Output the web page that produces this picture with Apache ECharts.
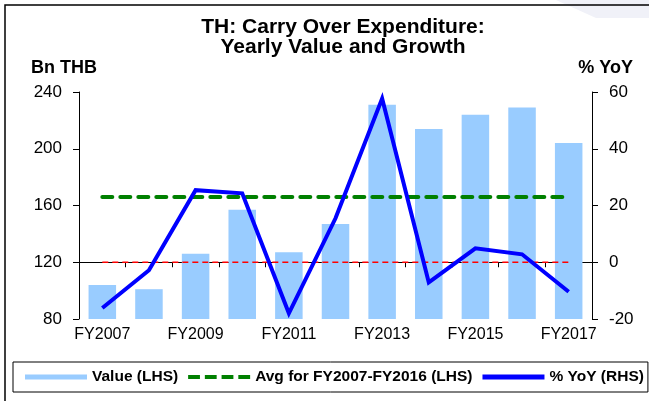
<!DOCTYPE html>
<html>
<head>
<meta charset="utf-8">
<script src="https://cdn.jsdelivr.net/npm/echarts@6/dist/echarts.min.js"></script>
<style>html,body{margin:0;padding:0;background:#fff;}#c{width:649px;height:401px;}</style>
</head>
<body>
<div id="c"></div>
<script>
const categories = ['FY2007','FY2008','FY2009','FY2010','FY2011','FY2012','FY2013','FY2014','FY2015','FY2016','FY2017'];
const valueLHS = [104, 101, 126, 157, 127, 147, 231, 214, 224, 229, 204];
const yoyRHS = [-16.1, -2.8, 25.4, 24.3, -18.0, 15.5, 57.7, -7.1, 4.9, 2.8, -10.4];
const avgLHS = [166, 166, 166, 166, 166, 166, 166, 166, 166, 166, 166];
const zeroRHS = [0, 0, 0, 0, 0, 0, 0, 0, 0, 0, 0];
const leftTicks = {min: 80, max: 240, interval: 40};
const rightTicks = {min: -20, max: 60, interval: 20};

const FONT = 'Liberation Sans, Arial, sans-serif';
const chart = echarts.init(document.getElementById('c'), null, {renderer: 'canvas'});
chart.setOption({
  animation: false,
  backgroundColor: '#fff',
  graphic: [
    {type: 'polygon', silent: true, z: -1, shape: {points: [[556,0],[649,0],[649,18],[596,18]]}, style: {fill: '#f0f1f8'}},
    {type: 'rect', silent: true, shape: {x: 5, y: 5, width: 800, height: 600}, style: {fill: 'none', stroke: '#000', lineWidth: 1.5}},
    {type: 'text', silent: true, style: {text: 'TH: Carry Over Expenditure:\nYearly Value and Growth', x: 343, y: 17, align: 'center', verticalAlign: 'top', fontSize: 21, fontWeight: 'bold', fontFamily: FONT, lineHeight: 20, fill: '#000'}},
    {type: 'text', silent: true, style: {text: 'Bn THB', x: 31, y: 68, align: 'left', verticalAlign: 'middle', fontSize: 18, fontWeight: 'bold', fontFamily: FONT, fill: '#000'}},
    {type: 'text', silent: true, style: {text: '% YoY', x: 633, y: 68, align: 'right', verticalAlign: 'middle', fontSize: 18, fontWeight: 'bold', fontFamily: FONT, fill: '#000'}}
  ],
  grid: {left: 79, right: 57, top: 92, bottom: 82, containLabel: false},
  legend: {
    left: 13, top: 362,
    padding: [7, 4, 7, 12],
    borderColor: '#000', borderWidth: 1,
    itemWidth: 62, itemHeight: 5, itemGap: 10,
    textStyle: {fontSize: 15.5, fontWeight: 'bold', fontFamily: FONT, color: '#000'},
    data: [
      {name: 'Value (LHS)', icon: 'rect', itemStyle: {color: '#99ccff'}},
      {name: 'Avg for FY2007-FY2016 (LHS)', icon: 'path://M0,0h12v4h-12zM17,0h12v4h-12zM34,0h12v4h-12zM51,0h12v4h-12z', itemStyle: {color: '#008000'}},
      {name: '% YoY (RHS)', icon: 'rect', itemStyle: {color: '#0000ff'}}
    ]
  },
  xAxis: {
    type: 'category', data: categories, boundaryGap: true,
    axisLine: {lineStyle: {color: '#000', width: 1}},
    axisTick: {show: true, inside: false, length: 5, alignWithLabel: false, interval: 0, lineStyle: {color: '#000'}},
    axisLabel: {interval: 1, margin: 8, fontSize: 16, fontFamily: FONT, color: '#000'},
    splitLine: {show: false}
  },
  yAxis: [
    {type: 'value', position: 'left', min: leftTicks.min, max: leftTicks.max, interval: leftTicks.interval,
     axisLine: {show: true, lineStyle: {color: '#000'}},
     axisTick: {show: true, inside: false, length: 6, lineStyle: {color: '#000'}},
     axisLabel: {margin: 17, fontSize: 17, fontFamily: FONT, color: '#000'},
     splitLine: {show: false}},
    {type: 'value', position: 'right', min: rightTicks.min, max: rightTicks.max, interval: rightTicks.interval,
     axisLine: {show: true, lineStyle: {color: '#000'}},
     axisTick: {show: true, inside: false, length: 6, lineStyle: {color: '#000'}},
     axisLabel: {margin: 17, fontSize: 17, fontFamily: FONT, color: '#000'},
     splitLine: {show: false}}
  ],
  series: [
    {name: 'Value (LHS)', type: 'bar', yAxisIndex: 0, data: valueLHS, barWidth: '59%',
     itemStyle: {color: '#99ccff'}, z: 1},
    {name: 'zero', type: 'line', yAxisIndex: 1, data: zeroRHS, symbol: 'none', silent: true,
     lineStyle: {color: '#ff0000', width: 1.6, type: [6, 4]}, z: 2},
    {name: 'Avg for FY2007-FY2016 (LHS)', type: 'line', yAxisIndex: 0, data: avgLHS, symbol: 'none',
     lineStyle: {color: '#008000', width: 4, type: [10, 8], cap: 'round'}, z: 3},
    {name: '% YoY (RHS)', type: 'line', yAxisIndex: 1, data: yoyRHS, symbol: 'none',
     lineStyle: {color: '#0000ff', width: 4, join: 'miter'}, z: 4}
  ]
});
</script>
</body>
</html>
